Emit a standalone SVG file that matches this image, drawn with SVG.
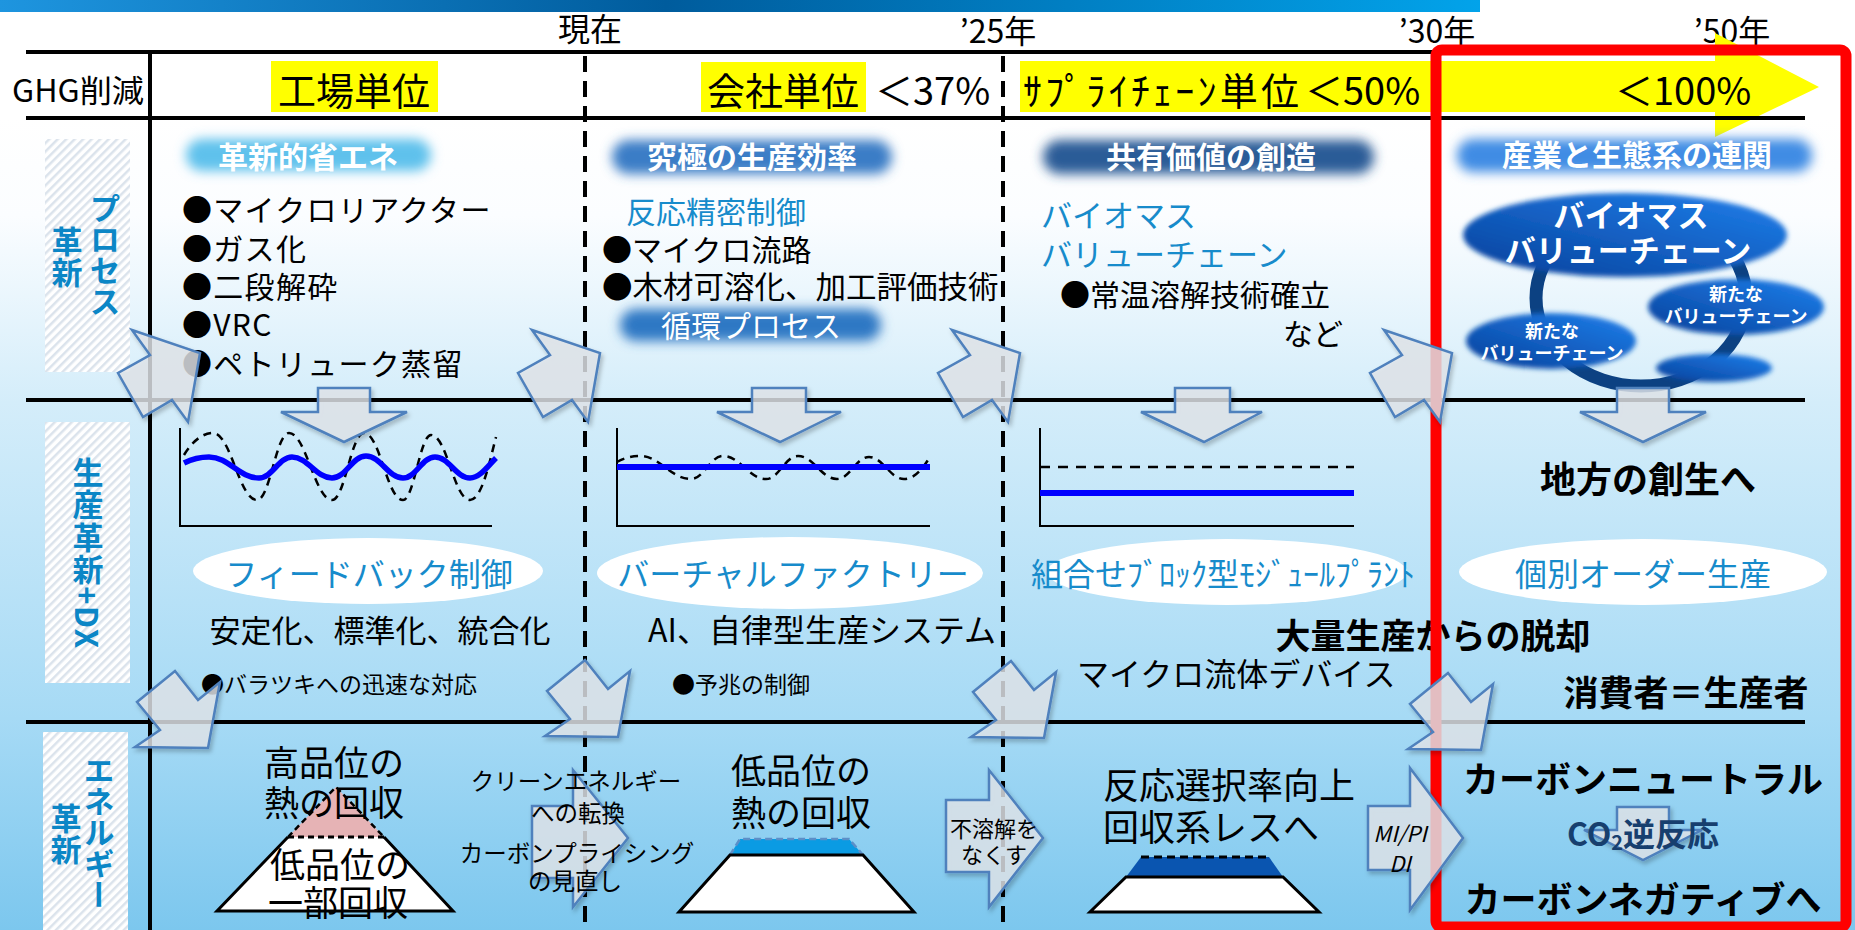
<svg xmlns="http://www.w3.org/2000/svg" width="1855" height="930" viewBox="0 0 1855 930">
<defs>
<style>
text{font-family:"Noto Sans CJK JP","Noto Sans",sans-serif;dominant-baseline:central;fill:#000}
.c{text-anchor:middle}
.b{font-weight:700}
.blue{fill:#178bcb}
.w{fill:#ffffff}
.sp{letter-spacing:1.3px}
.vt{writing-mode:vertical-rl;text-anchor:middle;font-weight:700;fill:#0b86c6;font-size:31px}
.ln{stroke:#000;stroke-width:4;fill:none}
.dash{stroke:#000;stroke-width:4;stroke-dasharray:16 9;fill:none}
.ax{stroke:#000;stroke-width:2;fill:none}
.arr{fill:#e2e6eb;fill-opacity:0.8;stroke:#4f81bd;stroke-width:2.5;stroke-linejoin:miter}
.hat{fill:url(#hatch)}
.ell{fill:#ffffff}
</style>
<linearGradient id="topbar" x1="0" y1="0" x2="1" y2="0">
<stop offset="0" stop-color="#1e95df"/>
<stop offset="0.45" stop-color="#005c9d"/>
<stop offset="1" stop-color="#02a3ea"/>
</linearGradient>
<linearGradient id="bg" gradientUnits="userSpaceOnUse" x1="0" y1="118" x2="0" y2="930">
<stop offset="0" stop-color="#ffffff"/>
<stop offset="0.12" stop-color="#fbfdff"/>
<stop offset="0.35" stop-color="#d4edfa"/>
<stop offset="0.74" stop-color="#a6daf5"/>
<stop offset="1" stop-color="#7cc7ee"/>
</linearGradient>
<pattern id="hatch" width="6" height="6" patternUnits="userSpaceOnUse" patternTransform="rotate(45)">
<rect width="6" height="6" fill="#ffffff"/>
<rect width="2.5" height="6" fill="#dbe3ec"/>
</pattern>
<linearGradient id="bio" x1="0" y1="1" x2="1" y2="0">
<stop offset="0" stop-color="#07409a"/>
<stop offset="1" stop-color="#1f80ec"/>
</linearGradient>
<filter id="glow" x="-20%" y="-60%" width="140%" height="220%"><feGaussianBlur stdDeviation="6"/></filter>
<filter id="soft" x="-10%" y="-30%" width="120%" height="160%"><feGaussianBlur stdDeviation="2.5"/></filter>
<filter id="shadow" x="-20%" y="-20%" width="150%" height="150%"><feDropShadow dx="2" dy="3" stdDeviation="2" flood-color="#000" flood-opacity="0.25"/></filter>
<polygon id="arr1" points="132,330 150,355 118,373 143,417 172,400 188,422 200,353"/>
<polygon id="arr2" points="175,671 198,700 220,682 208,748 135,747 160,730 137,702"/>
</defs>

<rect width="1855" height="930" fill="#ffffff"/>
<rect x="0" y="118" width="1855" height="812" fill="url(#bg)"/>
<rect x="0" y="0" width="1480" height="12" fill="url(#topbar)"/>

<g id="timeline">
<text class="c" x="590" y="27" font-size="32">現在</text>
<text class="c" x="998" y="29" font-size="32">’25年</text>
<text class="c" x="1437" y="29" font-size="32">’30年</text>
<text class="c" x="1732" y="29" font-size="32">’50年</text>
</g>

<g id="ghg-row">
<polygon points="1020,61 1715,61 1715,33 1819,87 1715,137 1715,112 1020,112" fill="#ffff00"/>
<rect x="271" y="61" width="167" height="51" fill="#ffff00"/>
<rect x="701" y="62" width="165" height="50" fill="#ffff00"/>
<text x="12" y="88" font-size="31" textLength="132" lengthAdjust="spacingAndGlyphs">GHG削減</text>
<text class="c" x="354" y="88" font-size="38">工場単位</text>
<text class="c" x="783" y="88" font-size="38">会社単位</text>
<text x="875" y="88" font-size="38">＜37%</text>
<text x="1023" y="88" font-size="38" textLength="276" lengthAdjust="spacing">ｻﾌﾟﾗｲﾁｪｰﾝ単位</text>
<text x="1305" y="88" font-size="38">＜50%</text>
<text x="1615" y="88" font-size="38">＜100%</text>
</g>

<g id="grid">
<line class="ln" x1="26" y1="52" x2="1436" y2="52"/>
<line class="ln" x1="26" y1="118" x2="1805" y2="118"/>
<line class="ln" x1="26" y1="400" x2="1805" y2="400"/>
<line class="ln" x1="26" y1="722" x2="1805" y2="722"/>
<line class="ln" x1="150" y1="52" x2="150" y2="930"/>
<line class="dash" x1="585" y1="56" x2="585" y2="930"/>
<line class="dash" x1="1003" y1="56" x2="1003" y2="930"/>
</g>

<g id="label-process">
<rect class="hat" x="45" y="139" width="85" height="233"/>
<text class="vt" x="105" y="255">プロセス</text>
<text class="vt" x="67" y="257">革新</text>
</g>
<g id="label-production">
<rect class="hat" x="45" y="422" width="85" height="261"/>
<text class="vt" x="88" y="553" style="letter-spacing:1.5px">生産革新+DX</text>
</g>
<g id="label-energy">
<rect class="hat" x="43" y="732" width="85" height="198"/>
<text class="vt" x="99" y="832">エネルギー</text>
<text class="vt" x="66" y="834">革新</text>
</g>

<g id="process-col1">
<rect x="186" y="139" width="245" height="32" rx="16" fill="#5fc1ec" filter="url(#glow)"/>
<text class="c b w" x="308" y="155" font-size="30">革新的省エネ</text>
<text class="sp" x="182" y="208" font-size="30">●マイクロリアクター</text>
<text class="sp" x="182" y="247" font-size="30">●ガス化</text>
<text class="sp" x="182" y="285" font-size="30">●二段解砕</text>
<text class="sp" x="182" y="323" font-size="30">●VRC</text>
<text class="sp" x="182" y="362" font-size="30">●ペトリューク蒸留</text>
</g>
<g id="process-col2">
<rect x="612" y="140" width="280" height="34" rx="17" fill="#3b7dc6" filter="url(#glow)"/>
<text class="c b w" x="752" y="155" font-size="30">究極の生産効率</text>
<text class="blue" x="626" y="210" font-size="30">反応精密制御</text>
<text x="602" y="248" font-size="30">●マイクロ流路</text>
<text x="602" y="285" font-size="30.5">●木材可溶化、加工評価技術</text>
<rect x="620" y="309" width="261" height="32" rx="16" fill="#2f78c4" filter="url(#glow)"/>
<text class="c w" x="751" y="324" font-size="30">循環プロセス</text>
</g>
<g id="process-col3">
<rect x="1043" y="140" width="331" height="34" rx="17" fill="#2b5c97" filter="url(#glow)"/>
<text class="c b w" x="1211" y="155" font-size="30">共有価値の創造</text>
<text class="blue" x="1041" y="213" font-size="31">バイオマス</text>
<text class="blue" x="1041" y="252" font-size="31">バリューチェーン</text>
<text x="1060" y="293" font-size="30">●常温溶解技術確立</text>
<text x="1283" y="332" font-size="30">など</text>
</g>
<g id="process-col4">
<rect x="1457" y="139" width="355" height="33" rx="16" fill="#3f8ce4" filter="url(#glow)"/>
<text class="c b w" x="1637" y="153" font-size="30">産業と生態系の連関</text>
<ellipse cx="1641" cy="298" rx="105" ry="88" fill="none" stroke="#0c4182" stroke-width="13"/>
<ellipse cx="1625" cy="235" rx="162" ry="42" fill="url(#bio)" filter="url(#soft)"/>
<text class="c b w" x="1631" y="213" font-size="31">バイオマス</text>
<text class="c b w" x="1628" y="248" font-size="31">バリューチェーン</text>
<ellipse cx="1551" cy="341" rx="85" ry="28" fill="url(#bio)" filter="url(#soft)"/>
<text class="c b w" x="1552" y="330" font-size="18">新たな</text>
<text class="c b w" x="1552" y="352" font-size="18">バリューチェーン</text>
<ellipse cx="1736" cy="307" rx="88" ry="28" fill="url(#bio)" filter="url(#soft)"/>
<text class="c b w" x="1736" y="293" font-size="18">新たな</text>
<text class="c b w" x="1736" y="315" font-size="18">バリューチェーン</text>
<ellipse cx="1714" cy="368" rx="58" ry="14" fill="url(#bio)" filter="url(#soft)"/>
</g>

<g id="prod-col1">
<path class="ax" d="M180,428 V526 H492"/>
<path d="M184,455 C192,442 202,433 213,433 C231,433 239,500 257,500 C270,500 276,433 289,433 C306,433 315,500 332,500 C345,500 351,433 364,433 C380,433 387,500 403,500 C414,500 420,435 431,435 C447,435 454,500 470,500 C482,500 490,460 496,437" fill="none" stroke="#000" stroke-width="2.5" stroke-dasharray="8 6"/>
<path d="M184,463 C192,459 200,457 209,457 C229,457 239,478 259,478 C272,478 279,457 292,457 C308,457 316,478 332,478 C346,478 352,456 366,456 C381,456 388,478 403,478 C416,478 422,457 435,457 C449,457 456,478 470,478 C480,478 488,466 496,458" fill="none" stroke="#0000ff" stroke-width="5.5"/>
<ellipse class="ell" cx="368" cy="571" rx="175" ry="33"/>
<text class="c blue" x="369" y="572" font-size="32">フィードバック制御</text>
<text class="c" x="380" y="628" font-size="31">安定化、標準化、統合化</text>
<text x="201" y="683" font-size="23">●バラツキへの迅速な対応</text>
</g>
<g id="prod-col2">
<path class="ax" d="M617,428 V526 H930"/>
<path d="M617,462 C624,458 632,456 640,456 C660,456 671,479 691,479 C704,479 710,456 723,456 C740,456 749,479 766,479 C779,479 785,456 798,456 C814,456 821,479 837,479 C850,479 856,457 869,457 C883,457 890,479 904,479 C916,479 924,466 930,457" fill="none" stroke="#000" stroke-width="2.5" stroke-dasharray="8 6"/>
<line x1="617" y1="467" x2="930" y2="467" stroke="#0000ff" stroke-width="6"/>
<ellipse class="ell" cx="790" cy="573" rx="193" ry="36"/>
<text class="c blue" x="793" y="572" font-size="32">バーチャルファクトリー</text>
<text class="c" x="822" y="628" font-size="32">AI、自律型生産システム</text>
<text x="672" y="683" font-size="23">●予兆の制御</text>
</g>
<g id="prod-col3">
<path class="ax" d="M1040,428 V526 H1354"/>
<line x1="1040" y1="467" x2="1354" y2="467" stroke="#000" stroke-width="2.5" stroke-dasharray="10 8"/>
<line x1="1040" y1="493" x2="1354" y2="493" stroke="#0000ff" stroke-width="6"/>
<ellipse class="ell" cx="1227" cy="572" rx="180" ry="33"/>
<text class="c blue" x="1223" y="572" font-size="32">組合せﾌﾞﾛｯｸ型ﾓｼﾞｭｰﾙﾌﾟﾗﾝﾄ</text>
<text x="1077" y="672" font-size="32">マイクロ流体デバイス</text>
</g>
<g id="prod-col4">
<text class="c b" x="1648" y="477" font-size="36">地方の創生へ</text>
<ellipse class="ell" cx="1643" cy="572" rx="184" ry="33"/>
<text class="c blue" x="1643" y="572" font-size="32">個別オーダー生産</text>
<text class="c b" x="1686" y="690" font-size="35">消費者＝生産者</text>
</g>
<g id="mass-production">
<text class="c b" x="1433" y="633" font-size="35">大量生産からの脱却</text>
</g>

<g id="energy-col1">
<polygon points="336,787 288,837 384,837" fill="#e6b3b5"/>
<path d="M288,837 L336,787 L384,837" fill="none" stroke="#000" stroke-width="2.5" stroke-dasharray="6 4"/>
<polygon points="288,837 384,837 453,911 217,911" fill="#ffffff"/>
<path d="M288,837 L217,911 H453 L384,837" fill="none" stroke="#000" stroke-width="3"/>
<line x1="288" y1="837" x2="384" y2="837" stroke="#000" stroke-width="3" stroke-dasharray="6 4"/>
<text class="c" x="334" y="760" font-size="35">高品位の</text>
<text class="c" x="334" y="800" font-size="35">熱の回収</text>
<text class="c" x="340" y="862" font-size="35">低品位の</text>
<text class="c" x="338" y="900" font-size="35">一部回収</text>
</g>
<g id="energy-col2">
<polygon points="740,839 849,839 863,855 730,855" fill="#0a9be3"/>
<path d="M730,855 L740,839 H849 L863,855" fill="none" stroke="#5b8fc8" stroke-width="2.5" stroke-dasharray="7 4"/>
<polygon points="730,855 863,855 914,912 679,912" fill="#ffffff" stroke="#000" stroke-width="3"/>
<text class="c" x="801" y="768" font-size="35">低品位の</text>
<text class="c" x="801" y="810" font-size="35">熱の回収</text>
</g>
<g id="energy-col3">
<polygon points="1141,857 1269,857 1283,877 1126,877" fill="#0a55b0"/>
<line x1="1141" y1="857" x2="1269" y2="857" stroke="#000" stroke-width="3" stroke-dasharray="8 5"/>
<polygon points="1126,877 1283,877 1319,912 1090,912" fill="#ffffff" stroke="#000" stroke-width="3"/>
<text x="1103" y="783" font-size="36">反応選択率向上</text>
<text x="1103" y="825" font-size="36">回収系レスへ</text>
</g>
<g id="energy-col4">
<text class="c b" x="1643" y="777" font-size="36">カーボンニュートラル</text>
<polygon class="arr" points="1617,807 1669,807 1669,830 1702,830 1643,860 1584,830 1617,830" filter="url(#shadow)"/>
<text class="c b" x="1643" y="832" font-size="32" style="fill:#173f6e"><tspan>CO</tspan><tspan font-size="20" dy="9">2</tspan><tspan dy="-9">逆反応</tspan></text>
<text class="c b" x="1643" y="897" font-size="36">カーボンネガティブへ</text>
</g>

<g id="red-frame">
<rect x="1436" y="50" width="410" height="877" rx="6" fill="none" stroke="#ff0000" stroke-width="11"/>
</g>

<g id="connectors">
<use href="#arr1" class="arr" filter="url(#shadow)"/>
<use href="#arr1" class="arr" x="400" filter="url(#shadow)"/>
<use href="#arr1" class="arr" x="820" filter="url(#shadow)"/>
<use href="#arr1" class="arr" x="1252" filter="url(#shadow)"/>
<use href="#arr2" class="arr" filter="url(#shadow)"/>
<use href="#arr2" class="arr" x="410" y="-11" filter="url(#shadow)"/>
<use href="#arr2" class="arr" x="836" y="-10" filter="url(#shadow)"/>
<use href="#arr2" class="arr" x="1273" y="2" filter="url(#shadow)"/>
<polygon class="arr" points="318,388 370,388 370,412 407,412 344,442 281,412 318,412" filter="url(#shadow)"/>
<polygon class="arr" points="752,388 806,388 806,412 841,412 780,442 717,412 752,412" filter="url(#shadow)"/>
<polygon class="arr" points="1175,388 1230,388 1230,412 1262,412 1204,442 1141,412 1175,412" filter="url(#shadow)"/>
<polygon class="arr" points="1617,388 1669,388 1669,412 1706,412 1643,442 1580,412 1617,412" filter="url(#shadow)"/>
<polygon class="arr" points="532,806 573,806 573,770 628,838 573,907 573,878 532,878" filter="url(#shadow)"/>
<polygon class="arr" points="946,800 989,800 989,770 1043,838 989,907 989,872 946,872" filter="url(#shadow)"/>
<polygon class="arr" points="1368,806 1410,806 1410,768 1463,838 1410,910 1410,870 1368,870" filter="url(#shadow)"/>
</g>

<g id="arrow-labels">
<text class="c" x="576" y="780" font-size="23.5">クリーンエネルギー</text>
<text class="c" x="578" y="812" font-size="23.5">への転換</text>
<text class="c" x="577" y="852" font-size="23.5">カーボンプライシング</text>
<text class="c" x="575" y="880" font-size="23.5">の見直し</text>
<text class="c" x="994" y="827" font-size="22">不溶解を</text>
<text class="c" x="994" y="853" font-size="22">なくす</text>
<text class="c" x="1400" y="832" font-size="22" font-style="italic">MI/PI</text>
<text class="c" x="1400" y="862" font-size="22" font-style="italic">DI</text>
</g>
</svg>
